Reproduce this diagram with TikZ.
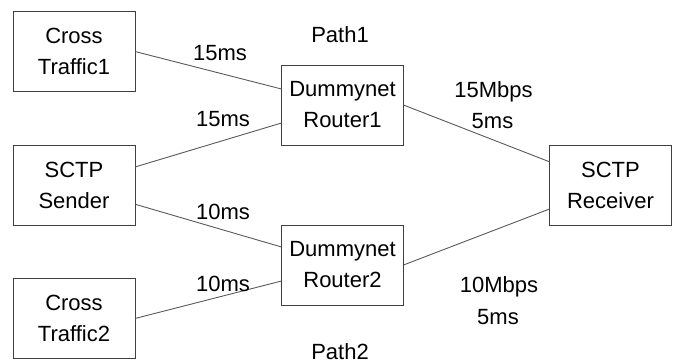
\documentclass[tikz,border=0pt]{standalone}
\usepackage{fontspec}
\setmainfont{Liberation Sans}
\usetikzlibrary{calc}
\begin{document}
\begin{tikzpicture}[x=1pt,y=-1pt,
  box/.style={draw=black!75,line width=1pt,minimum width=122pt,minimum height=80pt,inner sep=0pt,outer sep=0pt,align=center,font=\fontsize{22}{31}\selectfont},
  lbl/.style={anchor=base,inner sep=0pt,font=\fontsize{22}{31}\selectfont},
  link/.style={draw=black!65,line width=0.9pt}]
\useasboundingbox (0,0) rectangle (678,364);
\node[box] (ct1) at (74,51.5) {Cross\\Traffic1};
\node[box] (snd) at (74,185) {SCTP\\Sender};
\node[box] (ct2) at (74,318.5) {Cross\\Traffic2};
\node[box] (r1) at (342.5,105) {Dummynet\\Router1};
\node[box] (r2) at (342.5,265) {Dummynet\\Router2};
\node[box] (rcv) at (610.5,185) {SCTP\\Receiver};
\draw[link] (ct1.east) -- ($(r1.north west)!0.3!(r1.south west)$);
\draw[link] ($(snd.north east)!0.275!(snd.south east)$) -- ($(r1.north west)!0.725!(r1.south west)$);
\draw[link] (r1.east) -- ($(rcv.north west)!0.21!(rcv.south west)$);
\draw[link] ($(snd.north east)!0.74!(snd.south east)$) -- ($(r2.north west)!0.275!(r2.south west)$);
\draw[link] (ct2.east) -- ($(r2.north west)!0.7!(r2.south west)$);
\draw[link] (r2.east) -- ($(rcv.north west)!0.8!(rcv.south west)$);
\node[lbl] (p1) at (340,42) {Path1};
\node[lbl] (p2) at (340,359) {Path2};
\node[lbl] (l1) at (220,60) {15ms};
\node[lbl] (l2) at (223,126) {15ms};
\node[lbl] (l3) at (223,219) {10ms};
\node[lbl] (l4) at (223,291) {10ms};
\node[lbl] (l5) at (493.5,97) {15Mbps};
\node[lbl] (l6) at (492.5,128) {5ms};
\node[lbl] (l7) at (499,292) {10Mbps};
\node[lbl] (l8) at (498,324) {5ms};
\end{tikzpicture}
\end{document}
